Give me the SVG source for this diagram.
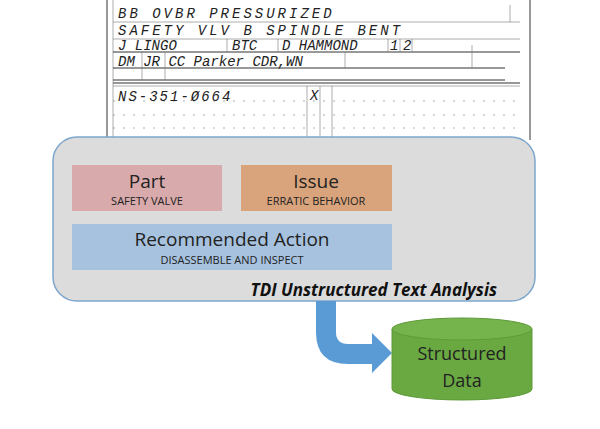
<svg xmlns="http://www.w3.org/2000/svg" width="600" height="429" viewBox="0 0 600 429">
<style>
.f{stroke:#333;stroke-width:1;fill:none}
.fl{stroke:#777;stroke-width:0.6;fill:none}
.hw{font-family:"Liberation Mono",monospace;font-style:italic;font-size:14px;fill:#222}
.t{font-family:"Open Sans","Liberation Sans",sans-serif;fill:#222;text-anchor:middle}
</style>
<rect width="600" height="429" fill="#fff"/>
<g id="form">
<line x1="107" y1="0" x2="107" y2="140" class="f"/>
<line x1="530" y1="0" x2="530" y2="140" class="f"/>
<line x1="113" y1="0" x2="113" y2="140" class="fl"/>
<line x1="113" y1="22" x2="520" y2="22" class="fl"/>
<line x1="113" y1="39" x2="520" y2="39" class="fl"/>
<line x1="113" y1="52" x2="520" y2="52" class="f"/>
<line x1="113" y1="68" x2="505" y2="68" class="f"/>
<line x1="113" y1="80" x2="505" y2="80" class="f"/>
<line x1="113" y1="83" x2="520" y2="83" class="f"/>
<line x1="113" y1="86" x2="520" y2="86" class="fl"/>
<line x1="113" y1="101" x2="520" y2="101" class="fl" stroke-dasharray="2 8"/>
<line x1="113" y1="115" x2="520" y2="115" class="fl" stroke-dasharray="2 8"/>
<line x1="113" y1="128" x2="520" y2="128" class="fl" stroke-dasharray="2 8"/>
<line x1="227" y1="39" x2="227" y2="52" class="fl"/>
<line x1="278" y1="39" x2="278" y2="52" class="fl"/>
<line x1="388" y1="39" x2="388" y2="52" class="fl"/>
<line x1="400" y1="39" x2="400" y2="52" class="fl"/>
<line x1="412" y1="39" x2="412" y2="52" class="fl"/>
<line x1="472" y1="45" x2="472" y2="68" class="fl"/>
<line x1="142" y1="52" x2="142" y2="80" class="fl"/>
<line x1="165" y1="52" x2="165" y2="80" class="fl"/>
<line x1="345" y1="52" x2="345" y2="68" class="fl"/>
<line x1="307" y1="86" x2="307" y2="140" class="fl"/>
<line x1="320" y1="86" x2="320" y2="140" class="fl"/>
<line x1="332" y1="86" x2="332" y2="140" class="fl"/>
<line x1="510" y1="5" x2="510" y2="22" class="fl"/>
<text x="118" y="18" class="hw" letter-spacing="3">BB OVBR PRESSURIZED</text>
<text x="118" y="35" class="hw" font-size="13" letter-spacing="3">SAFETY VLV B SPINDLE BENT</text>
<text x="118" y="50" class="hw" font-size="11">J LINGO</text>
<text x="232" y="50" class="hw" font-size="11">BTC</text>
<text x="282" y="50" class="hw" font-size="11">D HAMMOND</text>
<text x="390" y="50" class="hw" font-size="10">1</text>
<text x="403" y="50" class="hw" font-size="10">2</text>
<text x="118" y="66" class="hw" font-size="13">DM JR  CC Parker CDR,WN</text>
<text x="118" y="101" class="hw" letter-spacing="2">NS-351-Ø664</text>
<text x="310" y="100" class="hw" font-size="12">X</text>
</g>
<g id="main">
<rect x="53" y="137" width="482" height="164" rx="24" fill="#dcdcdc" stroke="#7ea6cc" stroke-width="1.5"/>
<text x="497" y="296" font-family="Open Sans,Liberation Sans,sans-serif" font-weight="bold" font-style="italic" font-size="17" text-anchor="end" fill="#111">TDI Unstructured Text Analysis</text>
</g>
<g id="part">
<rect x="72" y="165" width="150" height="46" fill="#d9aaab"/>
<text x="147" y="188" class="t" font-size="19">Part</text>
<text x="147" y="205" class="t" font-size="11">SAFETY VALVE</text>
</g>
<g id="issue">
<rect x="241" y="165" width="151" height="46" fill="#d9a47c"/>
<text x="316" y="188" class="t" font-size="19">Issue</text>
<text x="316" y="205" class="t" font-size="11">ERRATIC BEHAVIOR</text>
</g>
<g id="action">
<rect x="72" y="224" width="320" height="46" fill="#a7c2de"/>
<text x="232" y="246" class="t" font-size="19">Recommended Action</text>
<text x="232" y="264" class="t" font-size="11">DISASSEMBLE AND INSPECT</text>
</g>
<g id="connectors">
<path d="M316 301 H336 V332 Q336 344 348 344 H372 V333 L392 353 L372 373 V364 H348 Q316 364 316 332 Z" fill="#5b9bd5"/>
</g>
<g id="data">
<path d="M392 329 V389 A70 11 0 0 0 532 389 V329" fill="#6aa942" stroke="#5f9a3b"/>
<ellipse cx="462" cy="329" rx="70" ry="11" fill="#75b44c" stroke="#5f9a3b"/>
<text x="462" y="360" class="t" font-size="18">Structured</text>
<text x="462" y="387" class="t" font-size="18">Data</text>
</g>
</svg>
